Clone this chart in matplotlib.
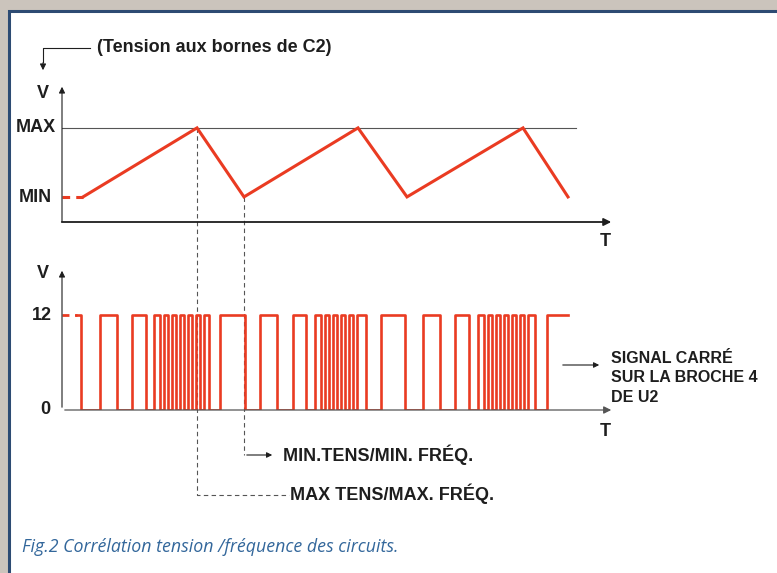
import matplotlib.pyplot as plt
from matplotlib.patches import Rectangle
from matplotlib.transforms import blended_transform_factory

# Tension aux bornes de C2 (triangle)  - time units, volts (arbitrary levels)
V_MIN = 1.0
V_MAX = 3.75
tri_t = [21, 135, 182, 296, 345, 461, 506]
tri_v = [V_MIN, V_MAX, V_MIN, V_MAX, V_MIN, V_MAX, V_MIN]

# Signal carre sur la broche 4 de U2 : edge times, starts high
sq_high = 12
sq_start = 15
sq_end = 506
sq_edges = [19, 38, 55, 70, 84, 92, 98, 102, 106, 110, 114, 118, 122, 126,
            130, 134, 138, 142, 147, 158, 183, 198, 215, 231, 244,
            253, 259, 263, 267, 271, 275, 279, 283, 287, 291, 295, 304,
            319, 343, 361, 378, 393, 407,
            416, 422, 426, 430, 434, 438, 442, 446, 450, 454, 458, 462, 466,
            473, 485]

t_peak = 135   # MAX TENS / MAX FREQ
t_low = 182    # MIN TENS / MIN FREQ

RED = '#ea3b22'
INK = '#1e1e1e'
FONT = ['Liberation Sans', 'DejaVu Sans']

fig = plt.figure(figsize=(7.77, 5.73), dpi=100)
fig.patch.set_facecolor('#cbc4bc')

# page / frame in pixel coords
ax0 = fig.add_axes([0, 0, 1, 1])
ax0.set_xlim(0, 777)
ax0.set_ylim(573, 0)
ax0.axis('off')
ax0.add_patch(Rectangle((9, 11), 820, 620, facecolor='white',
                        edgecolor='#2d4b73', lw=2.2))

# top panel
ax1 = fig.add_axes([62 / 777, (573 - 222) / 573, 550 / 777, 138 / 573])
ax1.set_xlim(0, 550)
ax1.set_ylim(0, 5.5)
ax1.axis('off')
ax1.patch.set_alpha(0)

ax1.plot([0, 514], [V_MAX, V_MAX], color='#555555', lw=0.8)
ax1.plot([0, tri_t[0]], [V_MIN, V_MIN], color=RED, lw=2.2, ls=(0, (2.5, 2)))
ax1.plot(tri_t, tri_v, color=RED, lw=2.2, solid_joinstyle='miter')
ax1.annotate('', xy=(552, 0), xytext=(-3, 0), annotation_clip=False,
             arrowprops=dict(arrowstyle='-|>', color=INK, lw=1.3,
                             mutation_scale=11))
ax1.annotate('', xy=(0, 5.5), xytext=(0, -0.1), annotation_clip=False,
             arrowprops=dict(arrowstyle='-|>', color=INK, lw=0.8,
                             mutation_scale=9))

# bottom panel
ax2 = fig.add_axes([62 / 777, (573 - 410) / 573, 550 / 777, 142 / 573])
ax2.set_xlim(0, 550)
ax2.set_ylim(0, 17.9)
ax2.axis('off')
ax2.patch.set_alpha(0)

xs = [sq_start] + sq_edges + [sq_end]
ys = [sq_high if i % 2 == 0 else 0 for i in range(len(sq_edges) + 1)]
ys.append(ys[-1])
ax2.plot([0, sq_start], [sq_high, sq_high], color=RED, lw=2.0,
         ls=(0, (2.5, 2)))
ax2.step(xs, ys, where='post', color=RED, lw=1.9)
ax2.annotate('', xy=(552, 0), xytext=(0, 0), annotation_clip=False,
             arrowprops=dict(arrowstyle='-|>', color='#555555', lw=0.9,
                             mutation_scale=11))
ax2.annotate('', xy=(0, 17.9), xytext=(0, 0), annotation_clip=False,
             arrowprops=dict(arrowstyle='-|>', color=INK, lw=0.8,
                             mutation_scale=9))

# guides (time on x, pixels on y)
tr = blended_transform_factory(ax1.transData, ax0.transData)
ax0.plot([t_peak, t_peak, 227], [128, 495, 495], transform=tr,
         color='#555555', lw=0.8, ls=(0, (4, 3)))
ax0.plot([t_low, t_low], [197, 455], transform=tr,
         color='#555555', lw=0.8, ls=(0, (4, 3)))
ax0.annotate('', xy=(213, 455), xytext=(t_low, 455),
             xycoords=tr, textcoords=tr,
             arrowprops=dict(arrowstyle='-|>', color=INK, lw=0.8,
                             mutation_scale=8))

txt = dict(family=FONT, fontweight='bold', fontsize=13, color=INK)

# top annotation
ax0.plot([90, 43, 43], [48, 48, 62], color=INK, lw=0.8)
ax0.annotate('', xy=(43, 73), xytext=(43, 60),
             arrowprops=dict(arrowstyle='-|>', color=INK, lw=0.8,
                             mutation_scale=9))
ax0.text(97, 48, '(Tension aux bornes de C2)', ha='left', va='center', **txt)

ax0.text(43, 94, 'V', ha='center', va='center', **txt)
ax0.text(56, 128, 'MAX', ha='right', va='center', **txt)
ax0.text(52, 197, 'MIN', ha='right', va='center', **txt)
ax0.text(605, 241, 'T', ha='center', va='center', **txt)

ax0.text(43, 273, 'V', ha='center', va='center', **txt)
ax0.text(52, 315, '12', ha='right', va='center', **txt)
ax0.text(50, 410, '0', ha='right', va='center', **txt)
ax0.text(605, 431, 'T', ha='center', va='center', **txt)

ax0.annotate('', xy=(602, 365), xytext=(560, 365),
             arrowprops=dict(arrowstyle='-|>', color=INK, lw=0.8,
                             mutation_scale=8))
side = dict(txt, fontsize=11.5)
ax0.text(611, 378, 'SIGNAL CARRÉ\nSUR LA BROCHE 4\nDE U2', ha='left',
         va='center', linespacing=1.35, **side)

ax0.text(283, 455, 'MIN.TENS/MIN. FRÉQ.', ha='left', va='center', **txt)
ax0.text(290, 494, 'MAX TENS/MAX. FRÉQ.', ha='left', va='center', **txt)

ax0.text(22, 547, 'Fig.2 Corrélation tension /fréquence des circuits.',
         ha='left', va='center', family=['Open Sans', 'DejaVu Sans'],
         style='italic', fontsize=12.8, color='#33679b')

fig.savefig('out.png', dpi=100, facecolor=fig.get_facecolor())
